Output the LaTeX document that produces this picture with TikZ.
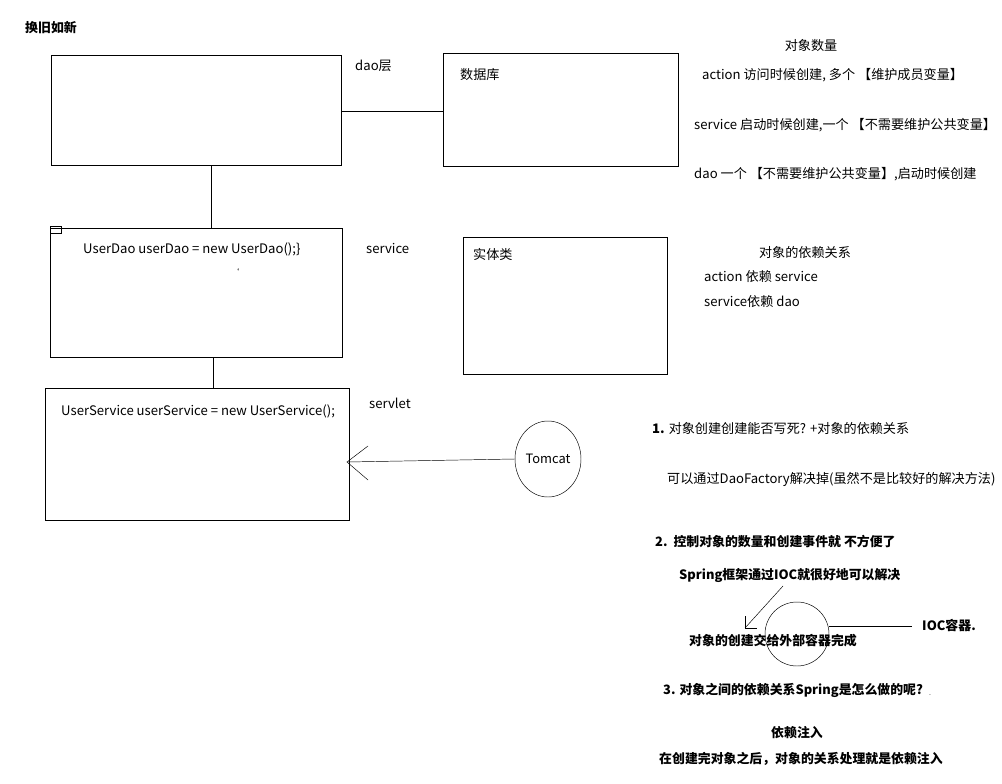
\documentclass[tikz,border=0pt]{standalone}
\usepackage{fontspec}
\setmainfont{Noto Sans CJK SC}
\usetikzlibrary{shapes.geometric}
\tikzset{x=0.03cm,y=-0.03cm,
        box/.style={draw,thin},
        txt/.style={anchor=west,inner sep=0pt,font=\fontsize{11.2}{13}\selectfont},
        btxt/.style={txt,font=\fontsize{11}{13}\selectfont\bfseries}
        }
\begin{document}
\begin{tikzpicture}
    \useasboundingbox (0,0) rectangle (1002,784);
    % 左侧的三层
    \node[btxt] (title) at (25,28) {换旧如新};
    \draw[box] (51,55) rectangle (341,165);
    \coordinate (daoR) at (341,111);
    \coordinate (daoB) at (211,165);
    \node[txt] (dao) at (355,66) {dao层};
    \draw[box] (443,53) rectangle (678,166);
    \coordinate (dbL) at (443,111);
    \node[txt] (db) at (460,75) {数据库};
    \draw (daoR) -- (dbL);
    \draw[box] (50,228) rectangle (342,357);
    \draw (50,226) rectangle (61,233);
    \coordinate (svcT) at (211,228);
    \draw (daoB) -- (svcT);
    \node[txt] (svcCode) at (83,249) {UserDao userDao = new UserDao();\}};
    \node[txt] (tick) at (231,272) {\fontsize{7}{7}\selectfont`};
    \node[txt] (svc) at (366,248) {service};
    \draw[box] (463,237) rectangle (667,374);
    \node[txt] (entity) at (473,254) {实体类};
    \draw[box] (45,388) rectangle (349,520);
    \draw (213,357) -- (213,388);
    \node[txt] (servletCode) at (61,411) {UserService userService = new UserService();};
    \node[txt] (servlet) at (369,403) {servlet};
    \node[draw,ellipse,minimum width=66*0.03cm,minimum height=76*0.03cm,inner sep=0pt,font=\fontsize{11}{13}\selectfont] (tomcat) at (548,459) {Tomcat};
    \coordinate (tip) at (347,462);
    \draw (tomcat.west) -- (tip);
    \draw (368,446) -- (tip) -- (368,480);
    % 右侧说明
    \node[txt,anchor=center] (num) at (811,46) {对象数量};
    \node[txt] (n1) at (702,75) {action 访问时候创建, 多个 【维护成员变量】};
    \node[txt] (n2) at (694,125) {service 启动时候创建,一个 【不需要维护公共变量】};
    \node[txt] (n3) at (694,174) {dao 一个 【不需要维护公共变量】,启动时候创建};
    \node[txt,anchor=center] (dep) at (805,253) {对象的依赖关系};
    \node[txt] (d1) at (704,277) {action 依赖 service};
    \node[txt] (d2) at (704,302) {service依赖 dao};
    \node[txt] (q1) at (652,429) {\textbf{1.} 对象创建创建能否写死? +对象的依赖关系};
    \node[txt] (a1) at (667,479) {可以通过DaoFactory解决掉(虽然不是比较好的解决方法)};
    \node[btxt] (q2) at (655,542) {2.\ \ 控制对象的数量和创建事件就 不方便了};
    \node[btxt] (a2) at (679,576) {Spring框架通过IOC就很好地可以解决};
    \node[draw,circle,minimum size=64*0.03cm,inner sep=0pt] (ioc) at (797,634) {};
    \node[btxt] (a3) at (689,641) {对象的创建交给外部容器完成};
    \coordinate (arrE) at (745,628);
    \draw (783,586) -- (arrE);
    \draw (745,616) -- (arrE) -- (757,628);
    \node[btxt] (iocTxt) at (922,626) {IOC容器.};
    \coordinate (iocE) at (829,626);
    \draw (iocE) -- (912,626);
    \node[btxt] (q3) at (663,690) {3. 对象之间的依赖关系Spring是怎么做的呢?};
    \node[txt] (dot) at (929,695) {\fontsize{6}{6}\selectfont .};
    \node[btxt,anchor=center] (di) at (797,733) {依赖注入};
    \node[btxt] (di2) at (659,759) {在创建完对象之后，对象的关系处理就是依赖注入};
\end{tikzpicture}
\end{document}
